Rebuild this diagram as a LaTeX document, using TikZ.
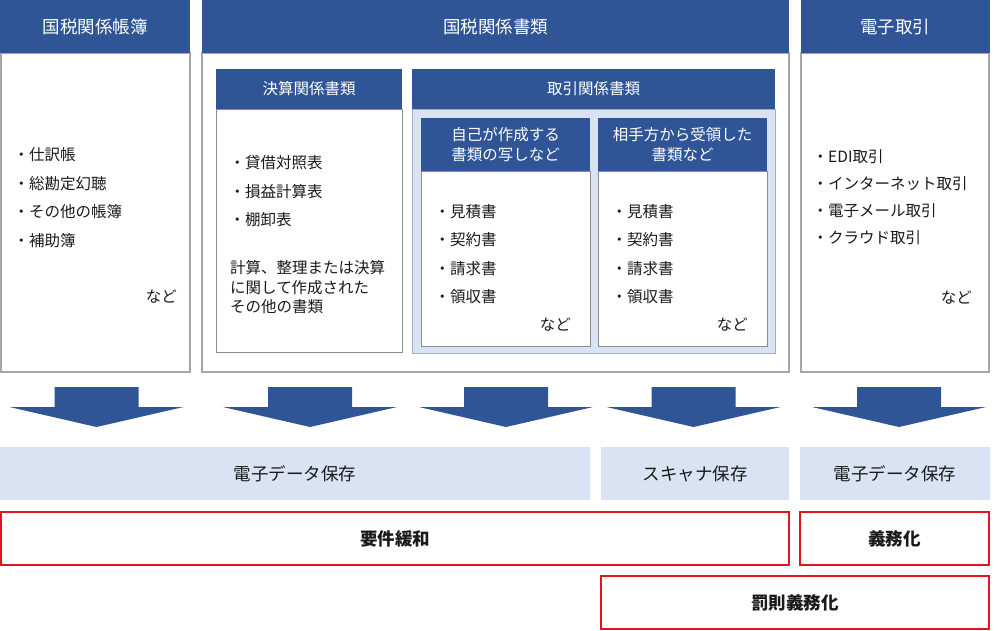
\documentclass[tikz,border=0pt]{standalone}
\usepackage{fontspec}
\setmainfont{Noto Sans CJK JP}
\definecolor{hdr}{HTML}{2F5597}
\definecolor{lb}{HTML}{DAE3F3}
\definecolor{bd}{HTML}{A6A6A6}
\definecolor{ibd}{HTML}{8C8C8C}
\definecolor{pbd}{HTML}{A3AEC2}
\definecolor{rd}{HTML}{E3141C}
\definecolor{tx}{HTML}{1A1A1A}
\begin{document}
\begin{tikzpicture}[x=1pt,y=-1pt,
  boxbase/.style={inner sep=0pt, outer sep=0pt, anchor=north west},
  hd/.style={boxbase, fill=hdr, text=white, font=\fontsize{17.5}{21}\selectfont},
  shd/.style={boxbase, fill=hdr, text=white, font=\fontsize{15.5}{20}\selectfont, align=center},
  bx/.style={boxbase, fill=white, draw=bd, line width=1.2pt},
  ibx/.style={boxbase, fill=white, draw=ibd, line width=0.9pt},
  pnl/.style={boxbase, fill=lb, draw=pbd, line width=1pt},
  lbx/.style={boxbase, fill=lb, text=tx, font=\fontsize{17.5}{21}\selectfont},
  rbx/.style={boxbase, fill=white, draw=rd, line width=1.5pt, text=tx, font=\fontsize{17.5}{21}\selectfont\bfseries},
  txt/.style={inner sep=0pt, anchor=west, text=tx, font=\fontsize{15.5}{20}\selectfont},
  rtxt/.style={inner sep=0pt, anchor=east, text=tx, font=\fontsize{15.5}{20}\selectfont},
  arr/.style={fill=hdr}
]
\useasboundingbox (0,0) rectangle (1000,630);

% ---------- left column ----------
\node[bx, minimum width=189, minimum height=319] (b1) at (1,53) {};
\node[hd, minimum width=190, minimum height=53] (h1) at (0,0) {国税関係帳簿};
\foreach \t [count=\i] in {・仕訳帳, ・総勘定幻聴, ・その他の帳簿, ・補助簿}
  \node[txt] (l\i) at (13.5, {126.5+28.5*\i}) {\t};
\node[rtxt] (l5) at (177,297) {など};

% ---------- middle column ----------
\node[bx, minimum width=587, minimum height=319] (b2) at (202,53) {};
\node[hd, minimum width=587, minimum height=53] (h2) at (202,0) {国税関係書類};

% 決算関係書類
\node[ibx, minimum width=186, minimum height=243] (kb) at (216,109) {};
\node[shd, minimum width=186, minimum height=40] (kh) at (216,69) {決算関係書類};
\foreach \t [count=\i] in {・貸借対照表, ・損益計算表, ・棚卸表}
  \node[txt] (k\i) at (229.5, {134.5+28.5*\i}) {\t};
\node[txt] (k4) at (230,268) {計算、整理または決算};
\node[txt] (k5) at (230,287.5) {に関して作成された};
\node[txt] (k6) at (230,307) {その他の書類};

% 取引関係書類
\node[pnl, minimum width=363, minimum height=244] (tp) at (412,109) {};
\node[shd, minimum width=363, minimum height=40] (th) at (412,69) {取引関係書類};

\node[ibx, minimum width=169, minimum height=175] (ab) at (421,171) {};
\node[shd, minimum width=169, minimum height=53] (ah) at (421,118) {自己が作成する\\書類の写しなど};
\foreach \t [count=\i] in {・見積書, ・契約書, ・請求書, ・領収書}
  \node[txt] (a\i) at (434.5, {183.5+28.3*\i}) {\t};
\node[rtxt] (a5) at (571,325) {など};

\node[ibx, minimum width=169, minimum height=175] (cb) at (598,171) {};
\node[shd, minimum width=169, minimum height=53] (ch) at (598,118) {相手方から受領した\\書類など};
\foreach \t [count=\i] in {・見積書, ・契約書, ・請求書, ・領収書}
  \node[txt] (c\i) at (611.5, {183.5+28.3*\i}) {\t};
\node[rtxt] (c5) at (748,325) {など};

% ---------- right column ----------
\node[bx, minimum width=188, minimum height=319] (b3) at (801,53) {};
\node[hd, minimum width=189, minimum height=53] (h3) at (800.5,0) {電子取引};
\foreach \t [count=\i] in {・EDI取引, ・インターネット取引, ・電子メール取引, ・クラウド取引}
  \node[txt] (e\i) at (812.5, {130+27*\i}) {\t};
\node[rtxt] (e5) at (972,298) {など};

% ---------- arrows ----------
\foreach \c in {96.5,310,506,693.5,899}
  \fill[arr] (\c-42,387) -- (\c+42,387) -- (\c+42,407) -- (\c+87,407)
    -- (\c,427) -- (\c-87,407) -- (\c-42,407) -- cycle;

% ---------- storage ----------
\node[lbx, minimum width=590, minimum height=53] (s1) at (0,447) {電子データ保存};
\node[lbx, minimum width=188, minimum height=53] (s2) at (601,447) {スキャナ保存};
\node[lbx, minimum width=190, minimum height=53] (s3) at (800,447) {電子データ保存};

% ---------- red boxes ----------
\node[rbx, minimum width=788, minimum height=53] (r1) at (1,512) {要件緩和};
\node[rbx, minimum width=189, minimum height=53] (r2) at (800,512) {義務化};
\node[rbx, minimum width=388, minimum height=53] (r3) at (601,576) {罰則義務化};
\end{tikzpicture}
\end{document}
